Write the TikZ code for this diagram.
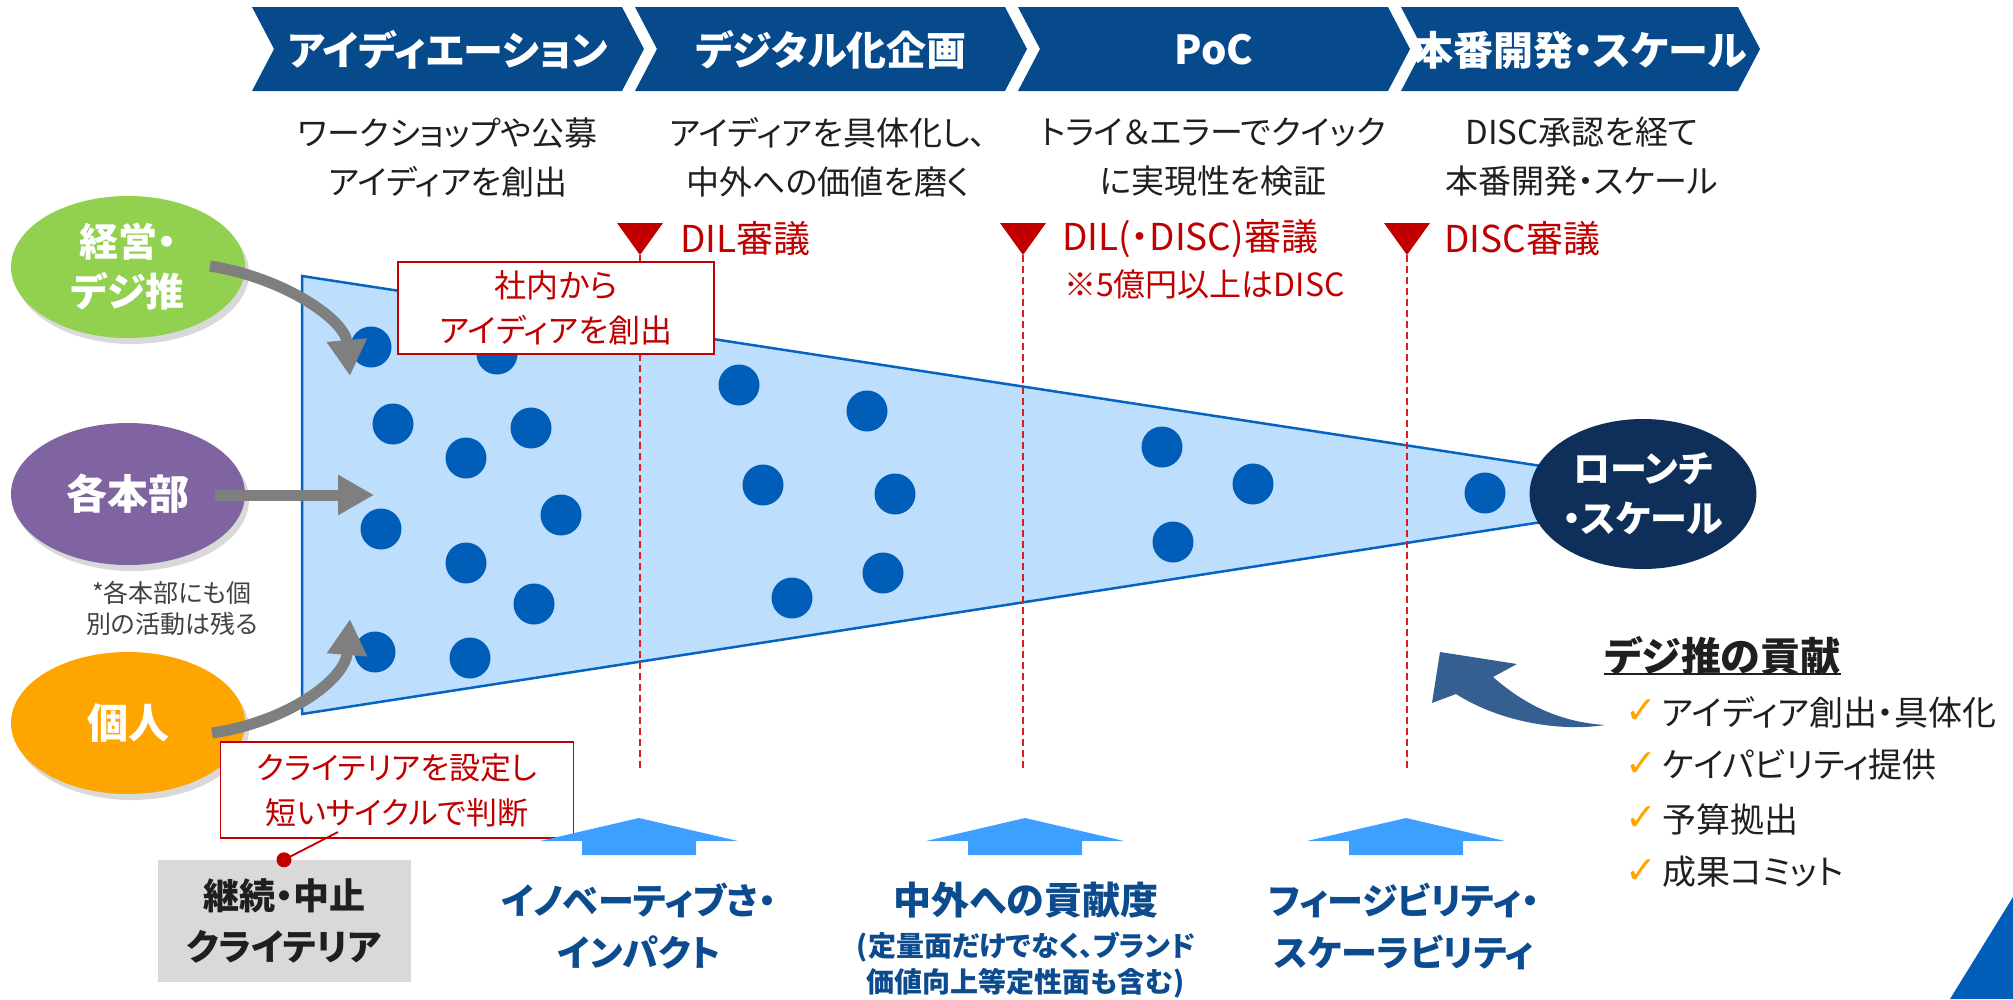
\documentclass[tikz,border=0pt]{standalone}
\usepackage{fontspec}
\setmainfont{Noto Sans CJK JP}[RawFeature=+palt]
\newfontfamily\djv{DejaVu Sans}
\usetikzlibrary{shapes.geometric,arrows.meta,shadows,calc}
\definecolor{chev}{HTML}{064A8C}
\definecolor{redc}{HTML}{C00000}
\definecolor{dashred}{HTML}{D81E1E}
\definecolor{funnelfill}{HTML}{BDDEFC}
\definecolor{funnelline}{HTML}{0563C1}
\definecolor{dotc}{HTML}{005EB8}
\definecolor{navy}{HTML}{0D2F5A}
\definecolor{greenc}{HTML}{92D050}
\definecolor{purplec}{HTML}{8064A2}
\definecolor{orangec}{HTML}{FFA500}
\definecolor{arrgray}{HTML}{7F7F7F}
\definecolor{lblue}{HTML}{3D9FFF}
\definecolor{labblue}{HTML}{0B4B8E}
\definecolor{curveblue}{HTML}{365F91}
\definecolor{cornerc}{HTML}{005EB8}
\definecolor{txt}{HTML}{1F1F1F}
\definecolor{graybox}{HTML}{D9D9D9}
\tikzset{
  hdr/.style={text=white, font=\fontsize{40}{48}\selectfont\bfseries, inner sep=0},
  desc/.style={text=txt, font=\fontsize{33}{49}\selectfont, align=center, inner sep=0},
  redlab/.style={text=redc, font=\fontsize{37}{44}\selectfont, anchor=west, inner sep=0},
  marker/.style={fill=redc},
  dashline/.style={draw=dashred, line width=1.4, dash pattern=on 7pt off 4pt},
  srcell/.style={ellipse, minimum width=234, minimum height=142, inner sep=0, text=white, align=center,
     font=\fontsize{39}{50}\selectfont\bfseries,
     drop shadow={opacity=0.3, shadow xshift=4pt, shadow yshift=-6pt}},
  grayarrow/.style={draw=arrgray, line width=11, -{Triangle[length=36pt,width=38pt]}},
  redbox/.style={draw=redc, line width=1.5, fill=white, text=redc, align=center, inner sep=0,
     font=\fontsize{32}{45}\selectfont},
  critbox/.style={fill=graybox, text=txt, align=center, inner sep=0, font=\fontsize{36}{51}\selectfont\bfseries},
  blab/.style={text=labblue, align=center, inner sep=0, font=\fontsize{36}{52}\selectfont\bfseries},
  blabsmall/.style={text=labblue, align=center, inner sep=0, font=\fontsize{28}{36}\selectfont\bfseries},
  listitem/.style={text=txt, anchor=west, inner sep=0, font=\fontsize{34}{40}\selectfont},
  checkmark/.style={text=orangec, inner sep=0, font=\djv\fontsize{38}{40}\selectfont},
}
\begin{document}
\begin{tikzpicture}[x=1pt,y=-1pt]
\useasboundingbox (0,0) rectangle (2013,999);

% chevrons
\foreach \L/\R in {252/622, 635/1005, 1018/1388, 1401/1738}{
  \fill[chev] (\L,7) -- (\R,7) -- (\R+22,49) -- (\R,91) -- (\L,91) -- (\L+22,49) -- cycle;
}
\node[hdr] (h1) at (448,50) {アイディエーション};
\node[hdr] (h2) at (831,50) {デジタル化企画};
\node[hdr] (h3) at (1214,50) {PoC};
\node[hdr] (h4) at (1580,50) {本番開発・スケール};

% descriptions
\node[desc] (d1) at (448,157) {ワークショップや公募\\アイディアを創出};
\node[desc] (d2) at (828,157) {アイディアを具体化し、\\中外への価値を磨く};
\node[desc] (d3) at (1213,157) {トライ＆エラーでクイック\\に実現性を検証};
\node[desc] (d4) at (1582,157) {DISC承認を経て\\本番開発・スケール};

% funnel
\filldraw[fill=funnelfill, draw=funnelline, line width=2.5] (302,276) -- (1600,475) -- (1600,513) -- (302,714) -- cycle;

% dashed review lines and markers
\foreach \x in {640,1023,1407}{
  \draw[dashline] (\x,255) -- (\x,768);
  \fill[marker] (\x-23,223) -- (\x+23,223) -- (\x,255) -- cycle;
}
\node[redlab] (r1) at (680,239) {DIL審議};
\node[redlab] (r2) at (1062,239) {DIL(・DISC)審議};
\node[redlab, font=\fontsize{32}{36}\selectfont] (r2b) at (1064,284) {※5億円以上はDISC};
\node[redlab] (r3) at (1444,239) {DISC審議};

% dots
\foreach \px/\py in {371/347, 497/354, 393/424, 531/428, 466/458, 381/529, 561/515, 466/563, 534/604, 375/652, 470/658,
  739/385, 867/411, 763/485, 895/494, 883/573, 792/598, 1162/447, 1253/484, 1173/542, 1485/493}{
  \fill[dotc] (\px,\py) circle (20.5);
}

% launch node
\node[ellipse, fill=navy, minimum width=180, minimum height=150, inner sep=0, text=white, align=center,
  font=\fontsize{37}{50}\selectfont\bfseries] (launch) at (1643,494) {ローンチ\\・スケール};

% source ellipses
\node[srcell, fill=greenc] (g) at (128,267) {経営・\\デジ推};
\node[srcell, fill=purplec, font=\fontsize{41}{50}\selectfont\bfseries] (p) at (128,494) {各本部};
\node[srcell, fill=orangec, font=\fontsize{41}{50}\selectfont\bfseries] (o) at (128,723) {個人};
\node[text=txt!85, align=center, inner sep=0, font=\fontsize{25}{31}\selectfont] (note) at (172,608) {*各本部にも個\\別の活動は残る};

% gray arrows
\coordinate (gs) at (210,266);
\coordinate (gt) at (350,376);
\coordinate (ps) at (215,495);
\coordinate (pt) at (374,495);
\coordinate (os) at (212,733);
\coordinate (ot) at (350,619);
\draw[grayarrow] (gs) .. controls (285,278) and (345,320) .. (gt);
\draw[grayarrow] (ps) -- (pt);
\draw[grayarrow] (os) .. controls (287,722) and (345,680) .. (ot);

% red boxes
\node[redbox, minimum width=316, minimum height=92] (b1) at (556,308) {社内から\\アイディアを創出};
\node[redbox, minimum width=353, minimum height=96, font=\fontsize{31}{45}\selectfont] (b2) at (397,790) {クライテリアを設定し\\短いサイクルで判断};

% criteria box and connector
\node[critbox, minimum width=253, minimum height=122] (crit) at (284,921) {継続・中止\\クライテリア};
\coordinate (b2c) at (338,832);
\draw[draw=redc, line width=1.8] (b2c) -- (crit.north);
\fill[redc] (crit.north) circle (7.5);

% light blue up arrows
\foreach \c in {639,1025,1406}{
  \fill[lblue] (\c-99,841) -- (\c,818) -- (\c+99,841) -- (\c+57,841) -- (\c+57,855) -- (\c-57,855) -- (\c-57,841) -- cycle;
}
\node[blab] (l1) at (639,926) {イノベーティブさ・\\インパクト};
\node[blab, font=\fontsize{38}{46}\selectfont\bfseries] (l2) at (1026,900) {中外への貢献度};
\node[blabsmall] (l2b) at (1026,965) {(定量面だけでなく、ブランド\\価値向上等定性面も含む)};
\node[blab] (l3) at (1404,926) {フィージビリティ・\\スケーラビリティ};

% contribution
\node[text=txt, anchor=west, inner sep=0, font=\fontsize{40}{46}\selectfont\bfseries] (dj) at (1604,656) {デジ推の貢献};
\draw[txt, line width=2] (dj.west |- 0,674) -- (dj.east |- 0,674);
\foreach \yy/\tx [count=\i] in {712/アイディア創出・具体化, 765/ケイパビリティ提供, 819/予算拠出, 872/成果コミット}{
  \node[checkmark] (ck\i) at (1641,\yy) {✓};
  \node[listitem] (li\i) at (1662,\yy) {\tx};
}

% curved blue arrow
\fill[curveblue] (1440,652) -- (1517,664) -- (1493,677)
  .. controls (1525,705) and (1560,722) .. (1605,725)
  .. controls (1560,732) and (1500,722) .. (1456,694)
  -- (1432,703) -- cycle;

% corner triangle
\fill[cornerc] (1950,999) -- (2013,897) -- (2013,999) -- cycle;
\end{tikzpicture}
\end{document}
